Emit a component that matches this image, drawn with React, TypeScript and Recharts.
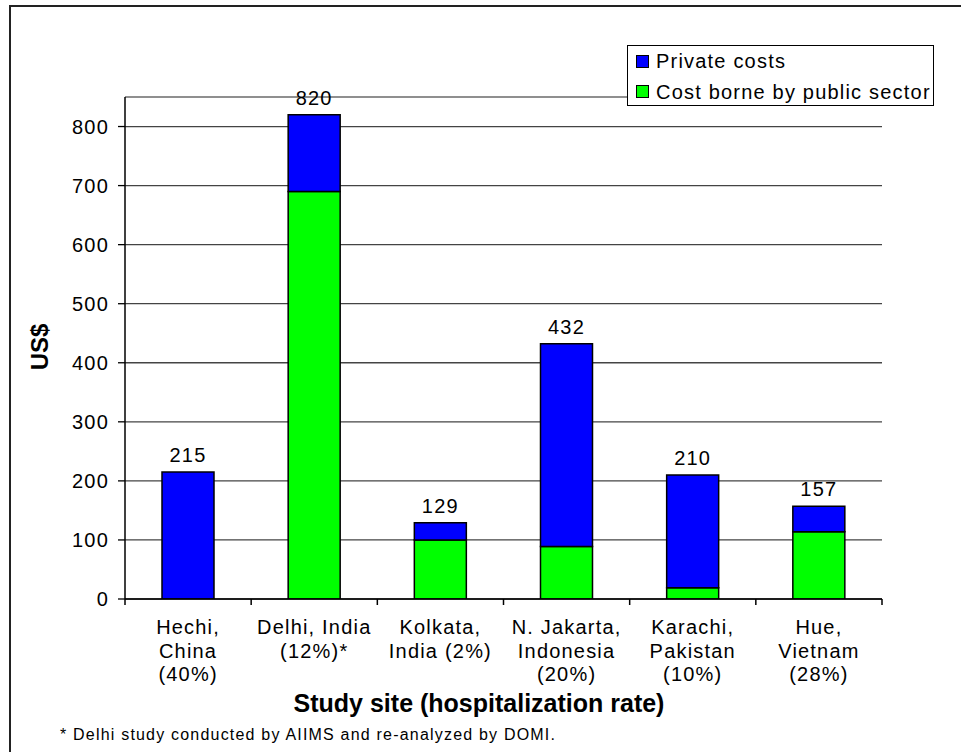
import React from 'react';
import {
  BarChart,
  Bar,
  XAxis,
  YAxis,
  CartesianGrid,
  ReferenceLine,
  LabelList,
  Legend,
} from 'recharts';

// study sites (hospitalization rate); "\n" marks the line breaks of the axis labels
const sites = [
  'Hechi,\nChina\n(40%)',
  'Delhi, India\n(12%)*',
  'Kolkata,\nIndia (2%)',
  'N. Jakarta,\nIndonesia\n(20%)',
  'Karachi,\nPakistan\n(10%)',
  'Hue,\nVietnam\n(28%)',
];
const publicCosts = [0, 690, 100, 89, 19, 114];
const privateCosts = [215, 130, 29, 343, 191, 43];
const totals = [215, 820, 129, 432, 210, 157];
const yTicks = [0, 100, 200, 300, 400, 500, 600, 700, 800];

const chartData = sites.map((site, i) => ({
  site,
  publicSector: publicCosts[i],
  privateCosts: privateCosts[i],
  total: totals[i],
}));

const FONT = '"Liberation Sans", Arial, sans-serif';

const SiteTick = (props: any) => {
  const { x, y, payload, index, width } = props;
  const lines = String(payload.value).split('\n');
  const half = payload.offset ?? width / sites.length / 2;
  return (
    <g>
      <line x1={x - half} x2={x - half} y1={y} y2={y + 6} stroke="#000" strokeWidth={1.5} />
      {index === sites.length - 1 && (
        <line x1={x + half} x2={x + half} y1={y} y2={y + 6} stroke="#000" strokeWidth={1.5} />
      )}
      <text
        x={x}
        y={y}
        textAnchor="middle"
        fontSize={20}
        fill="#000"
        style={{ fontFamily: FONT, letterSpacing: '1.2px' }}
      >
        {lines.map((line, i) => (
          <tspan key={i} x={x} dy={i === 0 ? 35 : 23.6}>
            {line}
          </tspan>
        ))}
      </text>
    </g>
  );
};

const LegendBox = ({ payload }: any) => {
  const items = [...(payload || [])].reverse();
  return (
    <div
      style={{
        border: '1.5px solid #000',
        background: '#fff',
        width: 297,
        height: 59,
        padding: '0 0 0 8px',
        boxSizing: 'content-box',
        fontFamily: FONT,
        fontSize: 20,
        letterSpacing: '1.2px',
        textAlign: 'left',
      }}
    >
      {items.map((item: any) => (
        <div key={item.value} style={{ display: 'flex', alignItems: 'center', height: 30.5 }}>
          <span
            style={{
              width: 11,
              height: 11,
              background: item.color,
              border: '1.5px solid #000',
              marginRight: 7,
              display: 'inline-block',
            }}
          />
          <span style={{ color: '#000', lineHeight: '20px' }}>{item.value}</span>
        </div>
      ))}
    </div>
  );
};

export default function App() {
  return (
    <div
      style={{
        position: 'absolute',
        left: 0,
        top: 0,
        width: 961,
        height: 752,
        background: '#fff',
        overflow: 'hidden',
        fontFamily: FONT,
      }}
    >
      <div
        style={{
          position: 'absolute',
          left: 9,
          top: 5,
          width: 1000,
          height: 800,
          borderLeft: '2px solid #222',
          borderTop: '2px solid #222',
        }}
      />
      <div style={{ position: 'absolute', left: 0, top: 0 }}>
        <BarChart
          width={961}
          height={752}
          data={chartData}
          margin={{ top: 97, right: 79, bottom: 63, left: 65 }}
        >
          <CartesianGrid vertical={false} stroke="#444" strokeWidth={1.3} />
          <XAxis
            dataKey="site"
            height={90}
            tickSize={0}
            tickMargin={0}
            tickLine={false}
            interval={0}
            axisLine={{ stroke: '#000', strokeWidth: 1.5 }}
            tick={<SiteTick />}
          />
          <YAxis
            width={60}
            domain={[0, 850]}
            ticks={yTicks}
            allowDataOverflow
            tickSize={7}
            tickMargin={9}
            axisLine={{ stroke: '#000', strokeWidth: 1.5 }}
            tickLine={{ stroke: '#000', strokeWidth: 1.3 }}
            tick={{ fontSize: 20, fill: '#000', style: { fontFamily: FONT, letterSpacing: '1.2px' } }}
          />
          <YAxis
            yAxisId="frame"
            orientation="right"
            width={0}
            domain={[0, 850]}
            tick={false}
            tickLine={false}
            axisLine={{ stroke: '#999', strokeWidth: 2 }}
          />
          <ReferenceLine y={850} stroke="#999" strokeWidth={1.5} />
          <Legend
            verticalAlign="middle"
            align="center"
            layout="horizontal"
            content={<LegendBox />}
            wrapperStyle={{ position: 'absolute', left: 627, top: 45, width: 'auto', height: 'auto' }}
          />
          <Bar
            dataKey="publicSector"
            name="Cost borne by public sector"
            stackId="cost"
            fill="#00ff00"
            stroke="#000"
            strokeWidth={1.5}
            barSize={52}
            isAnimationActive={false}
          />
          <Bar
            dataKey="privateCosts"
            name="Private costs"
            stackId="cost"
            fill="#0000ff"
            stroke="#000"
            strokeWidth={1.5}
            barSize={52}
            isAnimationActive={false}
          >
            <LabelList
              dataKey="total"
              position="top"
              offset={10}
              fill="#000"
              fontSize={20}
              style={{ fontFamily: FONT, letterSpacing: '1.2px' }}
            />
          </Bar>
        </BarChart>
      </div>
      <div
        style={{
          position: 'absolute',
          left: 40,
          top: 347,
          transform: 'translate(-50%, -50%) rotate(-90deg)',
          fontWeight: 'bold',
          fontSize: 24,
          whiteSpace: 'nowrap',
        }}
      >
        US$
      </div>
      <div
        style={{
          position: 'absolute',
          left: 479,
          top: 703,
          transform: 'translate(-50%, -50%)',
          fontWeight: 'bold',
          fontSize: 25,
          whiteSpace: 'nowrap',
        }}
      >
        Study site (hospitalization rate)
      </div>
      <div
        style={{
          position: 'absolute',
          left: 60,
          top: 735,
          transform: 'translateY(-50%)',
          fontSize: 16,
          letterSpacing: '1.2px',
          whiteSpace: 'nowrap',
        }}
      >
        * Delhi study conducted by AIIMS and re-analyzed by DOMI.
      </div>
    </div>
  );
}
